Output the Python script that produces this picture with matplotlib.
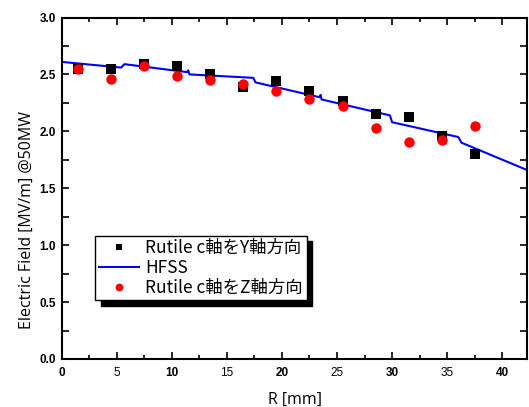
import matplotlib
matplotlib.use('Agg')
import matplotlib.pyplot as plt
from matplotlib.ticker import MultipleLocator

plt.rcParams['font.family'] = ['Noto Sans CJK JP', 'DejaVu Sans']

# 測定点 R [mm]
r_meas = [1.5, 4.5, 7.5, 10.5, 13.5, 16.5, 19.5, 22.5, 25.5, 28.5, 31.5, 34.5, 37.5]
# Rutile c軸をY軸方向
e_y = [2.55, 2.55, 2.59, 2.57, 2.50, 2.39, 2.44, 2.35, 2.27, 2.15, 2.13, 1.96, 1.80]
# Rutile c軸をZ軸方向
e_z = [2.55, 2.46, 2.57, 2.49, 2.45, 2.42, 2.35, 2.28, 2.22, 2.03, 1.91, 1.92, 2.05]

# HFSS 計算結果
r_hfss = [0.0, 5.4, 5.7, 11.4, 11.5, 11.6, 17.4, 17.6, 23.4, 23.5, 23.6,
          29.8, 30.0, 36.0, 36.3, 42.5]
e_hfss = [2.61, 2.56, 2.59, 2.52, 2.535, 2.50, 2.47, 2.43, 2.30, 2.32, 2.28,
          2.14, 2.08, 1.95, 1.90, 1.65]

fig = plt.figure(figsize=(5.29, 4.07), dpi=100)
ax = fig.add_axes([0.1165, 0.118, 0.8788, 0.839])

ax.plot(r_meas, e_y, 's', color='black', markersize=6.5, markeredgewidth=0,
        label='Rutile c軸をY軸方向', zorder=3)
ax.plot(r_hfss, e_hfss, '-', color='#0000ff', linewidth=1.5, label='HFSS', zorder=2)
ax.plot(r_meas, e_z, 'o', color='#ff0000', markersize=7.5, markeredgewidth=0,
        label='Rutile c軸をZ軸方向', zorder=4)

ax.set_xlim(0, 42.2)
ax.set_ylim(0, 3.0)
ax.xaxis.set_major_locator(MultipleLocator(5))
ax.xaxis.set_minor_locator(MultipleLocator(2.5))
ax.yaxis.set_major_locator(MultipleLocator(0.5))
ax.yaxis.set_minor_locator(MultipleLocator(0.25))
ax.tick_params(which='both', direction='in', top=True, right=True, width=1.2)
ax.tick_params(which='major', length=5)
ax.tick_params(which='minor', length=3)
ax.tick_params(axis='y', which='minor', right=True, length=5)
for s in ax.spines.values():
    s.set_linewidth(1.5)

ax.set_yticks([0, 0.5, 1.0, 1.5, 2.0, 2.5, 3.0])
ax.set_yticklabels(['0.0', '0.5', '1.0', '1.5', '2.0', '2.5', '3.0'],
                   family='Liberation Sans', fontsize=8.5, fontweight='bold')
xt = [0, 5, 10, 15, 20, 25, 30, 35, 40]
ax.set_xticks(xt)
ax.set_xticklabels([str(v) for v in xt], family='Liberation Sans', fontsize=8.5)
for v, lab in zip(xt, ax.get_xticklabels()):
    if v % 10 == 0:
        lab.set_fontweight('bold')
ax.tick_params(axis='x', pad=6)
ax.tick_params(axis='y', pad=4)

fig.text(27 / 529, 1 - 220 / 407, 'Electric Field [MV/m] @50MW', rotation=90,
         ha='center', va='center', family='Open Sans', fontsize=11.5)
fig.text(295 / 529, 1 - 400 / 407, 'R [mm]', ha='center', va='center',
         family='Open Sans', fontsize=11.5)

leg = ax.legend(loc='upper left', bbox_to_anchor=(0.072, 0.361), borderaxespad=0,
                fontsize=12.5, fancybox=False, framealpha=1, edgecolor='black',
                handlelength=2.3, handletextpad=0.4, labelspacing=0.1,
                borderpad=0.2, markerscale=0.75,
                shadow={'color': 'black', 'alpha': 1, 'ox': 4, 'oy': -4})
leg.get_frame().set_linewidth(1.0)

plt.savefig('out.png', dpi=100)
plt.close()
